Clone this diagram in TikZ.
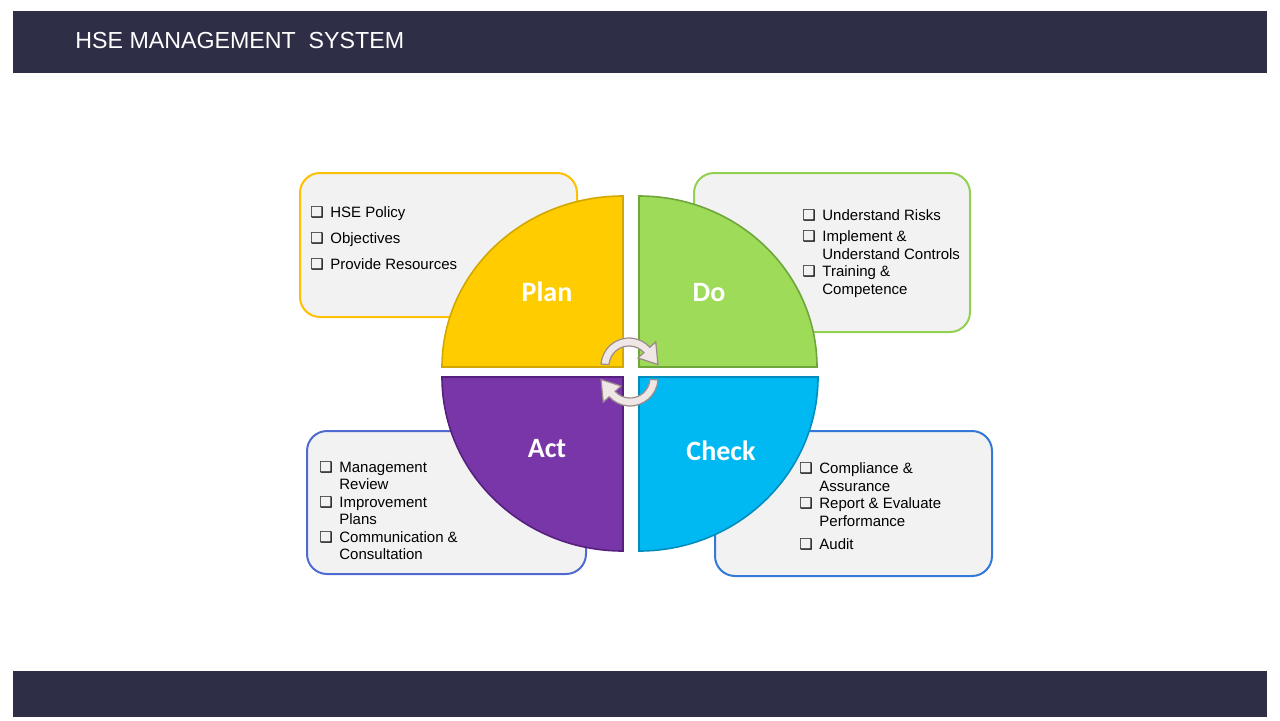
\documentclass[tikz,border=0pt]{standalone}
\usepackage{fontspec}
\setmainfont{Liberation Sans}
\newfontfamily\calib{Carlito}
\newfontfamily\dingfont{DejaVu Sans}
\usepackage{array}
\usetikzlibrary{positioning}

\definecolor{barcol}{HTML}{2E2F47}
\definecolor{boxfill}{HTML}{F2F2F2}
\definecolor{plancol}{HTML}{FFCC00}
\definecolor{planedge}{HTML}{D2A700}
\definecolor{planline}{HTML}{FFC000}
\definecolor{docol}{HTML}{9DDB58}
\definecolor{doedge}{HTML}{6FA63C}
\definecolor{doline}{HTML}{92D050}
\definecolor{actcol}{HTML}{7936A8}
\definecolor{actedge}{HTML}{57207E}
\definecolor{actline}{HTML}{4F6BD0}
\definecolor{checkcol}{HTML}{00B9F2}
\definecolor{checkedge}{HTML}{008DBE}
\definecolor{checkline}{HTML}{3478D8}
\definecolor{cycfill}{HTML}{EFE6E6}
\definecolor{cycedge}{HTML}{9C8A8A}

\newcommand{\chk}{{\dingfont\bfseries\fontsize{7.5}{7.5}\selectfont ❑}}

\begin{document}
\begin{tikzpicture}[
  x=0.5pt, y=0.5pt,
  bar/.style={fill=barcol, draw=none},
  infobox/.style={fill=boxfill, draw=#1, line width=1pt, rounded corners=10pt},
  quad/.style 2 args={fill=#1, draw=#2, line width=0.8pt},
  qlabel/.style={text=white, inner sep=0pt, font=\calib\bfseries\fontsize{14}{16}\selectfont},
  items/.style={anchor=north west, inner sep=0pt, align=left, font=\fontsize{7.5}{8.75}\selectfont},
  cyc/.style={fill=cycfill, draw=cycedge, line width=0.6pt}
]
\useasboundingbox (0,0) rectangle (1280,720);

% header and footer
\fill[bar] (13,709) rectangle (1267,647);
\fill[bar] (13,49) rectangle (1267,3);
\node[anchor=west, inner sep=0pt, text=white, font=\fontsize{11.6}{14}\selectfont]
  (title) at (75,679.5) {HSE MANAGEMENT\ \ SYSTEM};

% boxes behind the wheel
\draw[infobox=planline]  (300,547) rectangle (577,403);
\draw[infobox=doline]    (694,547) rectangle (970,388);
\draw[infobox=actline]   (307,289) rectangle (586,146);
\draw[infobox=checkline] (715,289) rectangle (992,144);

\node[items] (PI) at (310,515) {\begin{tabular}{@{}p{10pt}@{}l@{}}
  \chk & HSE Policy\\[4.25pt]
  \chk & Objectives\\[4.25pt]
  \chk & Provide Resources
\end{tabular}};
\node[items] (DI) at (802,512) {\begin{tabular}{@{}p{10pt}@{}l@{}}
  \chk & Understand Risks\\[1.8pt]
  \chk & Implement \&\\
       & Understand Controls\\
  \chk & Training \&\\
       & Competence
\end{tabular}};
\node[items] (AI) at (319,260.5) {\begin{tabular}{@{}p{10pt}@{}l@{}}
  \chk & Management\\
       & Review\\
  \chk & Improvement\\
       & Plans\\
  \chk & Communication \&\\
       & Consultation
\end{tabular}};
\node[items] (CI) at (799,259) {\begin{tabular}{@{}p{10pt}@{}l@{}}
  \chk & Compliance \&\\
       & Assurance\\
  \chk & Report \& Evaluate\\
       & Performance\\[2.75pt]
  \chk & Audit
\end{tabular}};

% the wheel
\draw[quad={plancol}{planedge}]   (623,353) -- (442,353) arc[start angle=180, end angle=90, x radius=181, y radius=171] -- cycle;
\draw[quad={docol}{doedge}]       (639,353) -- (639,524) arc[start angle=90, end angle=0, x radius=178, y radius=171] -- cycle;
\draw[quad={actcol}{actedge}]     (623,343) -- (442,343) arc[start angle=180, end angle=270, x radius=181, y radius=174] -- cycle;
\draw[quad={checkcol}{checkedge}] (639,343) -- (818,343) arc[start angle=0, end angle=-90, x radius=179, y radius=174] -- cycle;

\node[qlabel] (P) at (547,428) {Plan};
\node[qlabel] (D) at (709,427) {Do};
\node[qlabel] (A) at (547,271) {Act};
\node[qlabel] (C) at (721,269) {Check};

% cycle arrows
\begin{scope}[shift={(629,354)}]
  \draw[cyc] (176:28) arc[start angle=176, end angle=42, radius=28] -- (42:36) -- (3:29)
    -- (42:12) -- (42:20) arc[start angle=42, end angle=176, radius=20] -- cycle;
\end{scope}
\begin{scope}[shift={(630,342)}]
  \draw[cyc] (-4:28) arc[start angle=-4, end angle=-138, radius=28] -- (-138:36) -- (-177:29)
    -- (-138:12) -- (-138:20) arc[start angle=-138, end angle=-4, radius=20] -- cycle;
\end{scope}

\end{tikzpicture}
\end{document}
